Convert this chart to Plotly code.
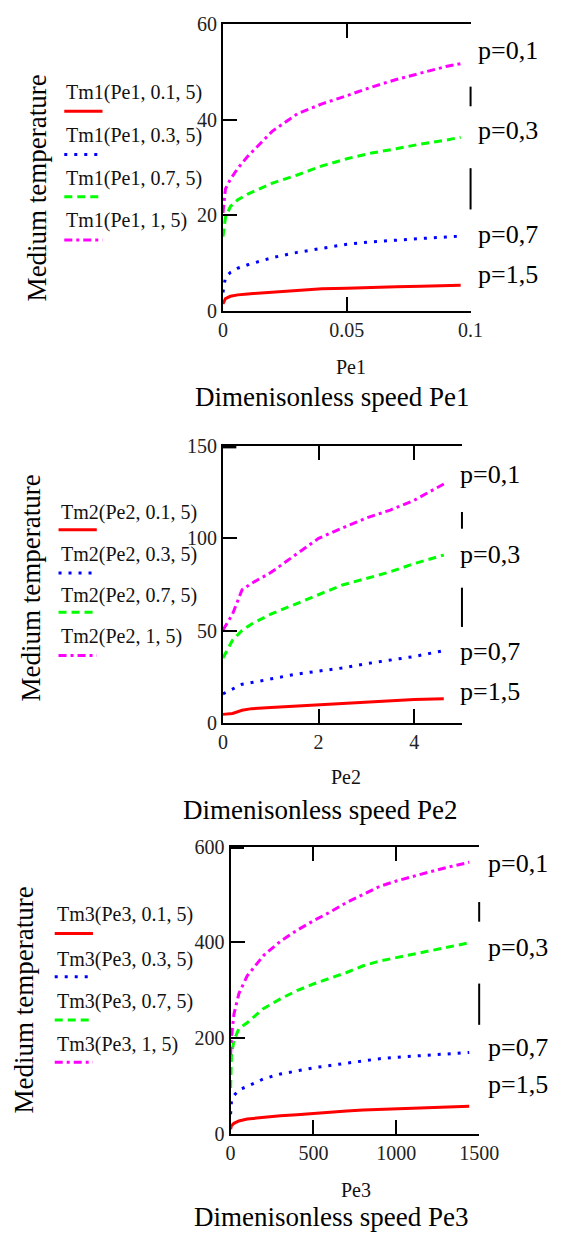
import plotly.graph_objects as go

W, H = 568, 1250
FONT = "Liberation Serif, Times New Roman, Times, serif"

# ---------------- data ----------------
pe1 = [0, 0.001, 0.003, 0.006, 0.01, 0.02, 0.03, 0.04, 0.05, 0.06, 0.07, 0.08, 0.09, 0.096]
tm1_p01 = [20.5, 25.5, 27.5, 29.8, 32.3, 37.6, 41.2, 43.3, 45.0, 46.8, 48.4, 49.7, 51.1, 51.7]
tm1_p03 = [15.5, 19.5, 21.8, 23.2, 24.4, 26.7, 28.4, 30.3, 31.8, 33.0, 33.9, 34.9, 35.7, 36.3]
tm1_p07 = [3.8, 7.0, 8.0, 8.9, 9.6, 11.1, 12.2, 13.1, 13.9, 14.4, 14.8, 15.1, 15.4, 15.6]
tm1_p15 = [1.4, 2.5, 3.0, 3.3, 3.5, 3.9, 4.3, 4.6, 4.7, 4.9, 5.0, 5.1, 5.3, 5.3]

pe2 = [0, 0.2, 0.4, 0.6, 1.0, 1.5, 2.0, 2.5, 3.0, 3.5, 4.0, 4.62]
tm2_p01 = [50.4, 59.0, 72.2, 75.7, 81.5, 90.7, 100.0, 105.6, 111.0, 115.3, 120.6, 129.4]
tm2_p03 = [35.3, 44.9, 50.2, 53.7, 59.0, 64.3, 69.9, 74.8, 78.3, 81.9, 86.3, 91.0]
tm2_p07 = [15.9, 18.5, 21.1, 22.0, 23.8, 26.4, 28.2, 29.9, 32.2, 34.0, 36.1, 39.3]
tm2_p15 = [4.8, 5.3, 7.0, 7.9, 8.5, 9.2, 10.0, 10.9, 11.4, 12.1, 12.9, 13.2]

pe3 = [0, 5, 20, 50, 100, 200, 300, 400, 500, 600, 700, 800, 900, 1000, 1100, 1200, 1300, 1440]
tm3_p01 = [165, 200, 250, 293, 330, 373, 402, 425, 445, 463, 483, 500, 517, 528, 538, 547, 556, 567]
tm3_p03 = [96, 164, 195, 220, 232, 262, 282, 299, 313, 325, 337, 351, 361, 368, 375, 382, 390, 399]
tm3_p07 = [41, 68, 80, 92, 99, 115, 125, 132, 138, 143, 148, 153, 157, 160, 162, 164, 167, 170]
tm3_p15 = [10, 17, 22, 27, 31, 35, 38, 40, 43, 46, 48, 50, 51, 52, 53, 55, 56, 57.5]

p_labels = ["p=0,1", "p=0,3", "p=0,7", "p=1,5"]
legend1 = ["Tm1(Pe1, 0.1, 5)", "Tm1(Pe1, 0.3, 5)", "Tm1(Pe1, 0.7, 5)", "Tm1(Pe1, 1, 5)"]
legend2 = ["Tm2(Pe2, 0.1, 5)", "Tm2(Pe2, 0.3, 5)", "Tm2(Pe2, 0.7, 5)", "Tm2(Pe2, 1, 5)"]
legend3 = ["Tm3(Pe3, 0.1, 5)", "Tm3(Pe3, 0.3, 5)", "Tm3(Pe3, 0.7, 5)", "Tm3(Pe3, 1, 5)"]

x_ticks1 = [0, 0.05, 0.1]; x_text1 = ["0", "0.05", "0.1"]
x_ticks2 = [0, 2, 4]
x_ticks3 = [0, 500, 1000, 1500]
y_ticks1 = [0, 20, 40, 60]
y_ticks2 = [0, 50, 100, 150]
y_ticks3 = [0, 200, 400, 600]

# legend order (as in the legend): 0.1 red solid, 0.3 blue dot, 0.7 green dash, 1 magenta dashdot
styles = [
    dict(color="#ff0000", dash="solid"),
    dict(color="#0000ff", dash="3px,7px"),
    dict(color="#00ff00", dash="8px,5px"),
    dict(color="#ff00ff", dash="8px,4px,3px,4px"),
]

panels = [
    dict(x=pe1, ys=[tm1_p15, tm1_p07, tm1_p03, tm1_p01], xr=[0, 0.1], yr=[0, 60],
         xt=x_ticks1, xtt=x_text1, yt=y_ticks1,
         dom_x=(228, 487), dom_y=(13.3, 305), leg=legend1,
         leg_x=62, leg_ty=[83, 127, 170, 213], leg_sy=[102, 146, 189, 233],
         plab_x=493, plab_y=[40, 122, 228, 268], right=[(77, 97), (160, 202)], rx=487,
         thick=False,
         ylab=(33, 180), pe=("Pe1", 362, 362), title=("Dimenisonless speed Pe1", 342, 393)),
    dict(x=pe2, ys=[tm2_p15, tm2_p07, tm2_p03, tm2_p01], xr=[0, 5], yr=[0, 150],
         xt=x_ticks2, xtt=[str(v) for v in x_ticks2], yt=y_ticks2,
         dom_x=(228, 478), dom_y=(442.7, 725), leg=legend2,
         leg_x=56, leg_ty=[510, 553, 595, 637], leg_sy=[528, 572, 612, 656],
         plab_x=474, plab_y=[472, 553, 652, 693], right=[(510, 527), (587, 627)], rx=478,
         thick=True,
         ylab=(27, 587), pe=("Pe2", 357, 780), title=("Dimenisonless speed Pe2", 329, 813)),
    dict(x=pe3, ys=[tm3_p15, tm3_p07, tm3_p03, tm3_p01], xr=[0, 1500], yr=[0, 600],
         xt=x_ticks3, xtt=[str(v) for v in x_ticks3], yt=y_ticks3,
         dom_x=(236, 496), dom_y=(850.5, 1143), leg=legend3,
         leg_x=52, leg_ty=[920, 965, 1008, 1052], leg_sy=[939, 983, 1027, 1070],
         plab_x=503, plab_y=[868, 953, 1055, 1093], right=[(907, 927), (990, 1032)], rx=496,
         thick=True,
         ylab=(20, 1007), pe=("Pe3", 367, 1200), title=("Dimenisonless speed Pe3", 341, 1228)),
]

def px(v):
    return v / W

def py(v):
    return 1 - v / H

fig = go.Figure()
annotations = []
shapes = []
layout = {}

for i, p in enumerate(panels):
    n = "" if i == 0 else str(i + 1)
    for k, yv in enumerate(p["ys"]):
        st = styles[k]
        fig.add_trace(go.Scatter(x=p["x"], y=yv, mode="lines", xaxis="x" + n, yaxis="y" + n,
                                 line=dict(color=st["color"], dash=st["dash"], width=3),
                                 showlegend=False, hoverinfo="skip"))
    layout["xaxis" + n] = dict(
        domain=[px(p["dom_x"][0]), px(p["dom_x"][1])], range=p["xr"], anchor="y" + n,
        tickvals=p["xt"], ticktext=p["xtt"], ticks="inside", ticklen=14, tickwidth=2,
        tickcolor="black", showline=True, linewidth=2, linecolor="black", mirror="ticks",
        showgrid=False, zeroline=False, tickfont=dict(family=FONT, size=20, color="#222"),
        fixedrange=True)
    layout["yaxis" + n] = dict(
        domain=[py(p["dom_y"][1]), py(p["dom_y"][0])], range=p["yr"], anchor="x" + n,
        tickvals=p["yt"], ticks="inside", ticklen=14, tickwidth=2, tickcolor="black",
        showline=True, linewidth=2, linecolor="black", showgrid=False, zeroline=False,
        tickfont=dict(family=FONT, size=20, color="#222"), fixedrange=True)
    # right border pieces visible between the p labels
    for (a, b) in p["right"]:
        shapes.append(dict(type="line", xref="paper", yref="paper",
                           x0=px(p["rx"]), x1=px(p["rx"]), y0=py(a), y1=py(b),
                           line=dict(color="black", width=2)))
    # short thick stub at the top-left corner of the frame
    if p["thick"]:
        shapes.append(dict(type="line", xref="paper", yref="paper",
                           x0=px(p["dom_x"][0]), x1=px(p["dom_x"][0] + 14),
                           y0=py(p["dom_y"][0] + 1), y1=py(p["dom_y"][0] + 1),
                           line=dict(color="black", width=3)))
    # legend: text above a line sample
    for k in range(4):
        st = styles[k]
        annotations.append(dict(text=p["leg"][k], x=px(p["leg_x"]), y=py(p["leg_ty"][k]),
                                xref="paper", yref="paper", xanchor="left", yanchor="middle",
                                showarrow=False, font=dict(family=FONT, size=20, color="#111")))
        shapes.append(dict(type="line", xref="paper", yref="paper",
                           x0=px(p["leg_x"]), x1=px(p["leg_x"] + 40),
                           y0=py(p["leg_sy"][k]), y1=py(p["leg_sy"][k]),
                           line=dict(color=st["color"], dash=st["dash"], width=3)))
    # p labels
    for k in range(4):
        annotations.append(dict(text=p_labels[k], x=px(p["plab_x"]), y=py(p["plab_y"][k]),
                                xref="paper", yref="paper", xanchor="left", yanchor="middle",
                                showarrow=False, font=dict(family=FONT, size=26, color="black")))
    # axis titles
    annotations.append(dict(text="Medium temperature", x=px(p["ylab"][0]), y=py(p["ylab"][1]),
                            xref="paper", yref="paper", xanchor="center", yanchor="middle",
                            textangle=-90, showarrow=False,
                            font=dict(family=FONT, size=27, color="black")))
    annotations.append(dict(text=p["pe"][0], x=px(p["pe"][1]), y=py(p["pe"][2]),
                            xref="paper", yref="paper", xanchor="center", yanchor="middle",
                            showarrow=False, font=dict(family=FONT, size=20, color="#111")))
    annotations.append(dict(text=p["title"][0], x=px(p["title"][1]), y=py(p["title"][2]),
                            xref="paper", yref="paper", xanchor="center", yanchor="middle",
                            showarrow=False, font=dict(family=FONT, size=27, color="black")))

fig.update_layout(width=W, height=H, margin=dict(l=0, r=0, t=0, b=0),
                  paper_bgcolor="white", plot_bgcolor="white",
                  font=dict(family=FONT), hovermode=False,
                  annotations=annotations, shapes=shapes, showlegend=False, **layout)

fig.write_html("out.html", config={"displayModeBar": False, "staticPlot": True},
               post_script="document.body.style.margin='0px';")
